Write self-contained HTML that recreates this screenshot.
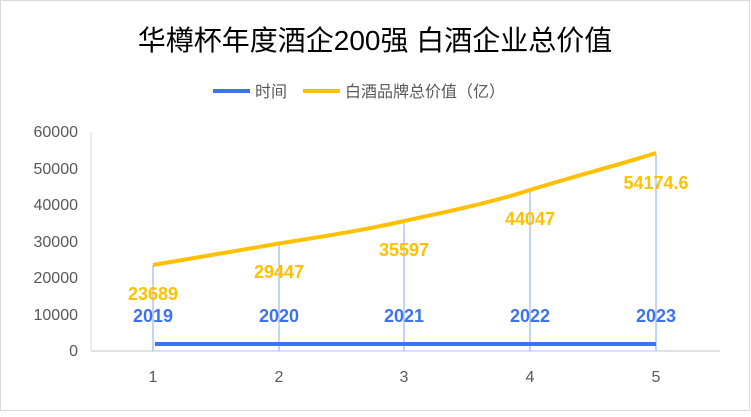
<!DOCTYPE html><html><head><meta charset="utf-8"><style>
body{margin:0;background:#fff;}
svg text{font-family:"Liberation Sans","Noto Sans CJK SC",sans-serif;}
</style></head><body>
<svg width="751" height="412" viewBox="0 0 751 412" xmlns="http://www.w3.org/2000/svg">
<rect x="0.5" y="0.5" width="749" height="410" fill="#fff" stroke="#d9d9d9"/>
<text x="375" y="50" font-size="28" text-anchor="middle" fill="#000">华樽杯年度酒企200强 白酒企业总价值</text>
<line x1="213" y1="91" x2="250" y2="91" stroke="#3b73f0" stroke-width="4"/>
<text x="255" y="97" font-size="16" fill="#595959">时间</text>
<line x1="303" y1="91" x2="340" y2="91" stroke="#ffc000" stroke-width="4"/>
<text x="345" y="97" font-size="16" fill="#595959">白酒品牌总价值（亿）</text>
<g font-size="16" fill="#595959" text-anchor="end">
<text x="78" y="356">0</text><text x="78" y="320">10000</text><text x="78" y="283">20000</text><text x="78" y="247">30000</text><text x="78" y="210">40000</text><text x="78" y="174">50000</text><text x="78" y="137">60000</text>
</g>
<line x1="91" y1="132" x2="91" y2="351" stroke="#d9d9d9"/>
<line x1="91" y1="351" x2="720" y2="351" stroke="#d9d9d9" stroke-width="1.5"/>
<g font-size="16" fill="#595959" text-anchor="middle">
<text x="153" y="382">1</text><text x="279" y="382">2</text><text x="404" y="382">3</text><text x="530" y="382">4</text><text x="656" y="382">5</text>
</g>
<g stroke="#8aaaf2" stroke-width="1">
<line x1="153" y1="265" x2="153" y2="351"/><line x1="279" y1="243" x2="279" y2="351"/><line x1="404" y1="221" x2="404" y2="351"/><line x1="530" y1="190" x2="530" y2="351"/><line x1="656" y1="153" x2="656" y2="351"/>
</g>
<line x1="155" y1="344" x2="656" y2="344" stroke="#3b73f0" stroke-width="4"/>
<path d="M153,265 C200,257 240,250 279,243.5 C320,237 365,230 404,221 C445,212 490,203 530,190 C575,176 615,166 656,153" fill="none" stroke="#ffc000" stroke-width="4" stroke-linejoin="round"/>
<g font-size="18" font-weight="bold" fill="#ffc000" text-anchor="middle">
<text x="153" y="300">23689</text><text x="279" y="278">29447</text><text x="404" y="256">35597</text><text x="530" y="225">44047</text><text x="656" y="189">54174.6</text>
</g>
<g font-size="18" font-weight="bold" fill="#3b73f0" text-anchor="middle">
<text x="153" y="322">2019</text><text x="279" y="322">2020</text><text x="404" y="322">2021</text><text x="530" y="322">2022</text><text x="656" y="322">2023</text>
</g>
</svg>
</body></html>
